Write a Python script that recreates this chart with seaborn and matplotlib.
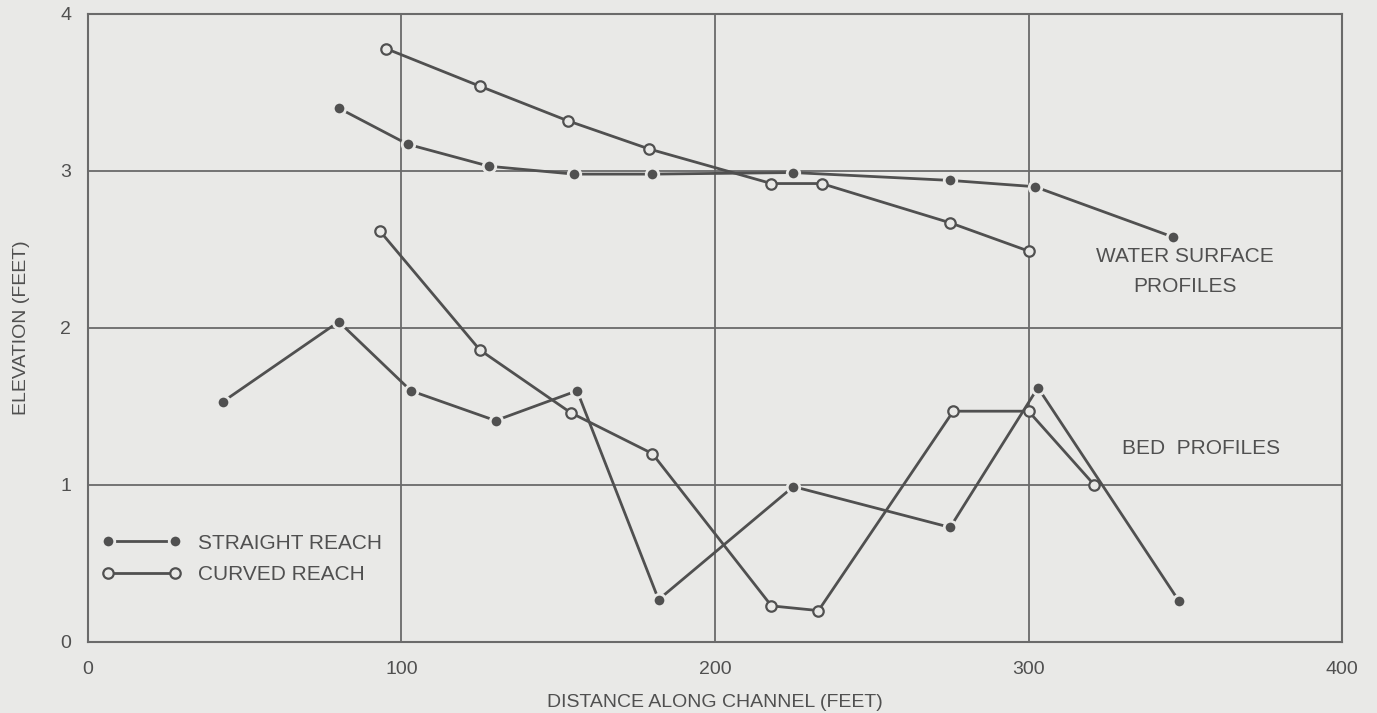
import numpy as np
import pandas as pd
import matplotlib
matplotlib.use("Agg")
import matplotlib.pyplot as plt
import seaborn as sns
from matplotlib.lines import Line2D

# water surface profiles
ws_straight_x = [80, 102, 128, 155, 180, 225, 275, 302, 346]
ws_straight_y = [3.40, 3.17, 3.03, 2.98, 2.98, 2.99, 2.94, 2.90, 2.58]
ws_curved_x = [95, 125, 153, 179, 218, 234, 275, 300]
ws_curved_y = [3.78, 3.54, 3.32, 3.14, 2.92, 2.92, 2.67, 2.49]

# bed profiles
bed_straight_x = [43, 80, 103, 130, 156, 182, 225, 275, 303, 348]
bed_straight_y = [1.53, 2.04, 1.60, 1.41, 1.60, 0.27, 0.99, 0.73, 1.62, 0.26]
bed_curved_x = [93, 125, 154, 180, 218, 233, 276, 300, 321]
bed_curved_y = [2.62, 1.86, 1.46, 1.20, 0.23, 0.20, 1.47, 1.47, 1.00]

x_ticks = [0, 100, 200, 300, 400]
y_ticks = [0, 1, 2, 3, 4]

paper = "#e9e9e7"
ink = "#505050"

sns.set_style("white")
plt.rcParams['font.family'] = ['Liberation Sans', 'DejaVu Sans']

fig = plt.figure(figsize=(13.77, 7.13), dpi=100, facecolor=paper)
ax = fig.add_axes([0.0639, 0.0996, 0.9107, 0.8808])
ax.set_facecolor(paper)

filled = dict(marker='o', markersize=9, markerfacecolor=ink, markeredgecolor=paper,
              markeredgewidth=2.0, color=ink, linewidth=2.0)
hollow = dict(marker='o', markersize=7.5, markerfacecolor=paper, markeredgecolor=ink,
              markeredgewidth=1.6, color=ink, linewidth=2.0)

sns.lineplot(x=ws_straight_x, y=ws_straight_y, ax=ax, estimator=None, sort=False, **filled)
sns.lineplot(x=ws_curved_x, y=ws_curved_y, ax=ax, estimator=None, sort=False, **hollow)
sns.lineplot(x=bed_straight_x, y=bed_straight_y, ax=ax, estimator=None, sort=False, **filled)
sns.lineplot(x=bed_curved_x, y=bed_curved_y, ax=ax, estimator=None, sort=False, **hollow)

ax.set_xlim(0, 400)
ax.set_ylim(0, 4)
ax.set_xticks(x_ticks)
ax.set_yticks(y_ticks)
ax.grid(True, color="#6a6a6a", linewidth=1.3)
ax.set_axisbelow(True)
for s in ax.spines.values():
    s.set_color("#6a6a6a")
    s.set_linewidth(1.5)
ax.tick_params(length=0, labelsize=14, labelcolor=ink)
ax.tick_params(axis='x', pad=14)
ax.tick_params(axis='y', pad=12)

ax.set_xlabel("DISTANCE ALONG CHANNEL (FEET)", fontsize=14, color=ink, labelpad=11)
ax.set_ylabel("ELEVATION (FEET)", fontsize=14, color=ink, labelpad=22)

ax.text(350, 2.36, "WATER SURFACE\nPROFILES", ha='center', va='center',
        fontsize=15, color=ink, linespacing=1.7)
ax.text(355, 1.23, "BED  PROFILES", ha='center', va='center', fontsize=15, color=ink)

handles = [Line2D([], [], **filled), Line2D([], [], **hollow)]
ax.legend(handles, ["STRAIGHT REACH", "CURVED REACH"], loc='center left',
          bbox_to_anchor=(-0.004, 0.1325), frameon=False, numpoints=2, handlelength=3.8,
          handletextpad=0.8, labelspacing=0.6, fontsize=15, labelcolor=ink)

fig.savefig("out.png", dpi=100, facecolor=paper)
